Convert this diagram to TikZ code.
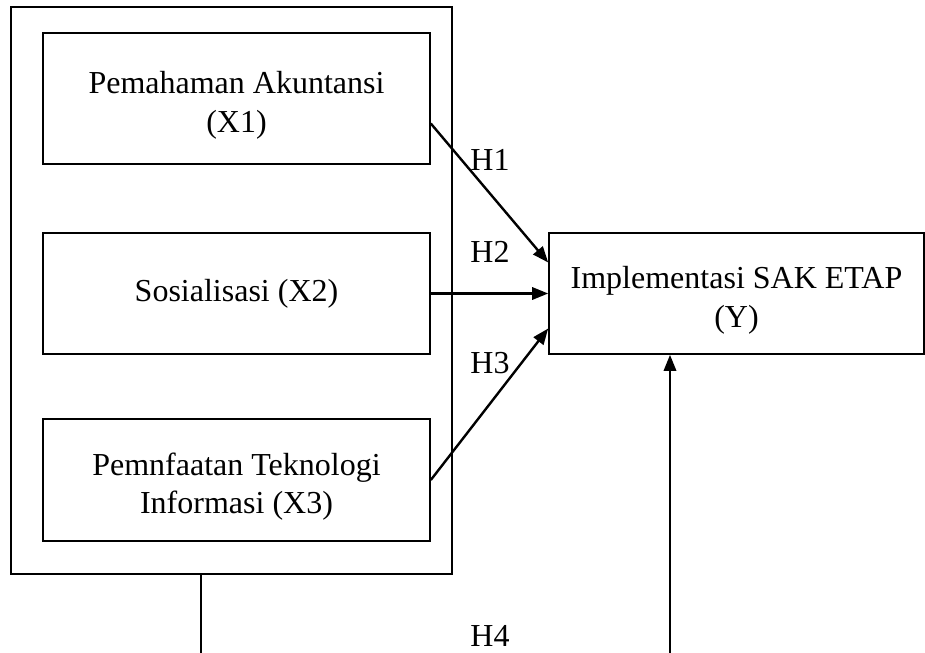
\documentclass[tikz,border=0pt]{standalone}
\usepackage{fontspec}
\setmainfont{Liberation Serif}
\usetikzlibrary{arrows.meta,calc}
\newcommand{\pxu}{0.375pt}

\begin{document}
\begin{tikzpicture}[x=\pxu,y=-\pxu,
    varbox/.style={draw,line width=0.6pt,inner sep=0pt,align=center,font=\fontsize{12}{14.5}\selectfont},
    twolines/.style={text height=25.4pt,text depth=0pt},
    hlabel/.style={font=\fontsize{12}{14.5}\selectfont},
    arr/.style={-{Triangle[length=6pt,width=4.6pt]},line width=0.9pt}]
  \useasboundingbox (0,0) rectangle (925,653);
  % outer frame round the three X variables
  \node[draw,line width=0.5pt,minimum width=441*\pxu,minimum height=567*\pxu] (frame) at (231.5,290.5) {};
  \node[varbox,twolines,minimum width=387*\pxu,minimum height=131*\pxu] (X1) at (236.5,98.5) {Pemahaman Akuntansi\\(X1)};
  \node[varbox,minimum width=387*\pxu,minimum height=121*\pxu] (X2) at (236.5,293.5) {Sosialisasi (X2)};
  \node[varbox,twolines,minimum width=387*\pxu,minimum height=122*\pxu] (X3) at (236.5,480) {Pemnfaatan Teknologi\\Informasi (X3)};
  \node[varbox,twolines,minimum width=375*\pxu,minimum height=121*\pxu] (Y) at (736.5,293.5) {Implementasi SAK ETAP\\(Y)};

  \draw[arr] ($(X1.east)+(0,25)$) -- ($(Y.west)+(0,-31)$);
  \draw[arr] (X2.east) -- (Y.west);
  \draw[arr] (X3.east) -- ($(Y.west)+(0,35)$);

  \node[hlabel] (h1) at (490,160) {H1};
  \node[hlabel] (h2) at (490,252) {H2};
  \node[hlabel] (h3) at (490,363) {H3};
  \node[hlabel] (h4) at (490,636) {H4};

  % H4 connector, cut by the page edge
  \coordinate (lowL) at (201,653);
  \coordinate (lowR) at (670,653);
  \draw[line width=0.6pt] (frame.south -| lowL) -- (lowL);
  \draw[arr] (lowR) -- (lowR |- Y.south);
\end{tikzpicture}
\end{document}
